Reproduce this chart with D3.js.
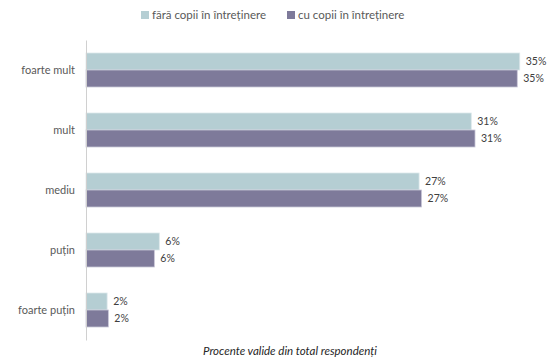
<!DOCTYPE html>
<html><head><meta charset="utf-8">
<script src="https://cdn.jsdelivr.net/npm/d3@7"></script>
<style>body{margin:0;background:#fff}svg{display:block}</style>
</head><body>
<svg id="c" width="549" height="363"></svg>
<script>
const categories = ["foarte mult", "mult", "mediu", "puțin", "foarte puțin"];
const seriesNames = ["fără copii în întreținere", "cu copii în întreținere"];
const fara = [34.9, 31.0, 26.8, 5.9, 1.7];
const cu = [34.7, 31.3, 27.0, 5.5, 1.8];
const valueLabels = [["35%","31%","27%","6%","2%"],["35%","31%","27%","6%","2%"]];
const footnote = "Procente valide din total respondenți";
const colors = ["#b5ced3", "#7e7a9a"];

const svg = d3.select("#c");
const font = "Lato, 'Open Sans', sans-serif";
const x = d3.scaleLinear().domain([0, 35]).range([86, 521]);
const y = d3.scaleBand().domain(categories).range([40, 340]);
const inner = d3.scaleBand().domain([0,1]).range([0, 34]);
const series = [fara, cu];

const g = svg.append("g");
series.forEach((vals, si) => {
  g.selectAll(".b"+si).data(vals).enter().append("rect")
    .attr("x", x(0))
    .attr("y", (d,i) => y(categories[i]) + y.bandwidth()/2 - 17 + inner(si))
    .attr("width", d => x(d) - x(0))
    .attr("height", inner.bandwidth())
    .attr("fill", colors[si])
    .attr("stroke", si ? "#c9c7d8" : "#dde8eb")
    .attr("stroke-width", 0.8);
  g.selectAll(".l"+si).data(vals).enter().append("text")
    .attr("x", d => x(d) + 6)
    .attr("y", (d,i) => y(categories[i]) + y.bandwidth()/2 - 17 + inner(si) + inner.bandwidth()/2 + 3.5)
    .attr("font-family", font).attr("font-size", 10.5).attr("fill", "#404040")
    .text((d,i) => valueLabels[si][i]);
});

const axis = d3.axisLeft(y).tickSize(0).tickPadding(11);
const ag = svg.append("g").attr("transform", `translate(${x(0)},0)`).call(axis);
ag.select(".domain").attr("stroke", "#d0d0d0");
ag.selectAll("text").attr("font-family", font).attr("font-size", 11).attr("fill", "#595959");

// legend
const leg = svg.append("g");
const lx = [141, 287];
seriesNames.forEach((n, i) => {
  leg.append("rect").attr("x", lx[i]).attr("y", 11).attr("width", 8).attr("height", 8).attr("fill", colors[i]);
  leg.append("text").attr("x", lx[i] + 11).attr("y", 19)
    .attr("font-family", font).attr("font-size", 11.5).attr("fill", "#595959").text(n);
});

svg.append("text").attr("x", 290).attr("y", 355).attr("text-anchor", "middle")
  .attr("font-family", font).attr("font-size", 11.5).attr("font-style", "italic").attr("fill", "#262626")
  .text(footnote);
</script>
</body></html>
